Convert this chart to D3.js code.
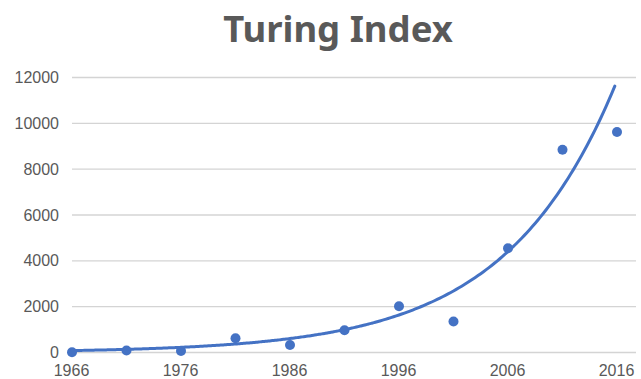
<!DOCTYPE html>
<html>
<head>
<meta charset="utf-8">
<script src="https://cdn.jsdelivr.net/npm/d3@7/dist/d3.min.js"></script>
<style>
  html, body { margin: 0; padding: 0; background: #fff; }
  svg { display: block; }
</style>
</head>
<body>
<svg id="chart" width="641" height="379"></svg>
<script>
// Turing Index by year, sampled every five years
const years = [1966, 1971, 1976, 1981, 1986, 1991, 1996, 2001, 2006, 2011, 2016];
const values = [10, 90, 70, 620, 330, 970, 2020, 1350, 4550, 8850, 9620];

// Axis ticks
const yTicks = [0, 2000, 4000, 6000, 8000, 10000, 12000];
const xTicks = [1966, 1976, 1986, 1996, 2006, 2016];

// Exponential trendline: y = trendA * e^(trendB * (year - trendBase))
const trendA = [84];
const trendB = [0.099];
const trendBase = 1966;
const trendEnd = 2015.8;

const svg = d3.select("#chart");
const blue = "#4472c4";
const textGrey = "#595959";

const x = d3.scaleLinear().domain([1966, 2018]).range([72, 638.8]);
const y = d3.scaleLinear().domain([0, 12000]).range([352.5, 77.5]);

// Title
svg.append("text")
  .attr("x", 338).attr("y", 42)
  .attr("text-anchor", "middle")
  .attr("font-family", "'Noto Sans', 'Open Sans', sans-serif")
  .attr("font-weight", 700)
  .attr("font-size", 36.5)
  .attr("fill", textGrey)
  .text("Turing Index");

// Horizontal gridlines
svg.append("g")
  .selectAll("line")
  .data(yTicks)
  .join("line")
  .attr("x1", 72).attr("x2", 636)
  .attr("y1", d => y(d)).attr("y2", d => y(d))
  .attr("stroke", "#d4d4d4")
  .attr("stroke-width", 1.4);

// Y axis labels
const yAxis = d3.axisLeft(y).tickValues(yTicks).tickSize(0).tickPadding(0).tickFormat(d3.format("d"));
const gy = svg.append("g").attr("transform", "translate(59,0)").call(yAxis);
gy.select(".domain").remove();
gy.selectAll("text")
  .attr("font-family", "'Liberation Sans', Arial, sans-serif")
  .attr("font-size", 16)
  .attr("fill", textGrey);

// X axis labels
const xAxis = d3.axisBottom(x).tickValues(xTicks).tickSize(0).tickPadding(0).tickFormat(d3.format("d"));
const gx = svg.append("g").attr("transform", "translate(-1,365)").call(xAxis);
gx.select(".domain").remove();
gx.selectAll("text")
  .attr("font-family", "'Liberation Sans', Arial, sans-serif")
  .attr("font-size", 16)
  .attr("fill", textGrey);

// Data points
svg.append("g")
  .selectAll("circle")
  .data(years.map((yr, i) => ({ yr, v: values[i] })))
  .join("circle")
  .attr("cx", d => x(d.yr))
  .attr("cy", d => y(d.v))
  .attr("r", 5)
  .attr("fill", blue);

// Trendline
const trendYears = d3.range(trendBase, trendEnd, 0.25).concat([trendEnd]);
const trendLine = d3.line()
  .x(d => x(d))
  .y(d => y(trendA[0] * Math.exp(trendB[0] * (d - trendBase))))
  .curve(d3.curveMonotoneX);
svg.append("path")
  .datum(trendYears)
  .attr("d", trendLine)
  .attr("fill", "none")
  .attr("stroke", blue)
  .attr("stroke-width", 3)
  .attr("stroke-linecap", "round");
</script>
</body>
</html>
